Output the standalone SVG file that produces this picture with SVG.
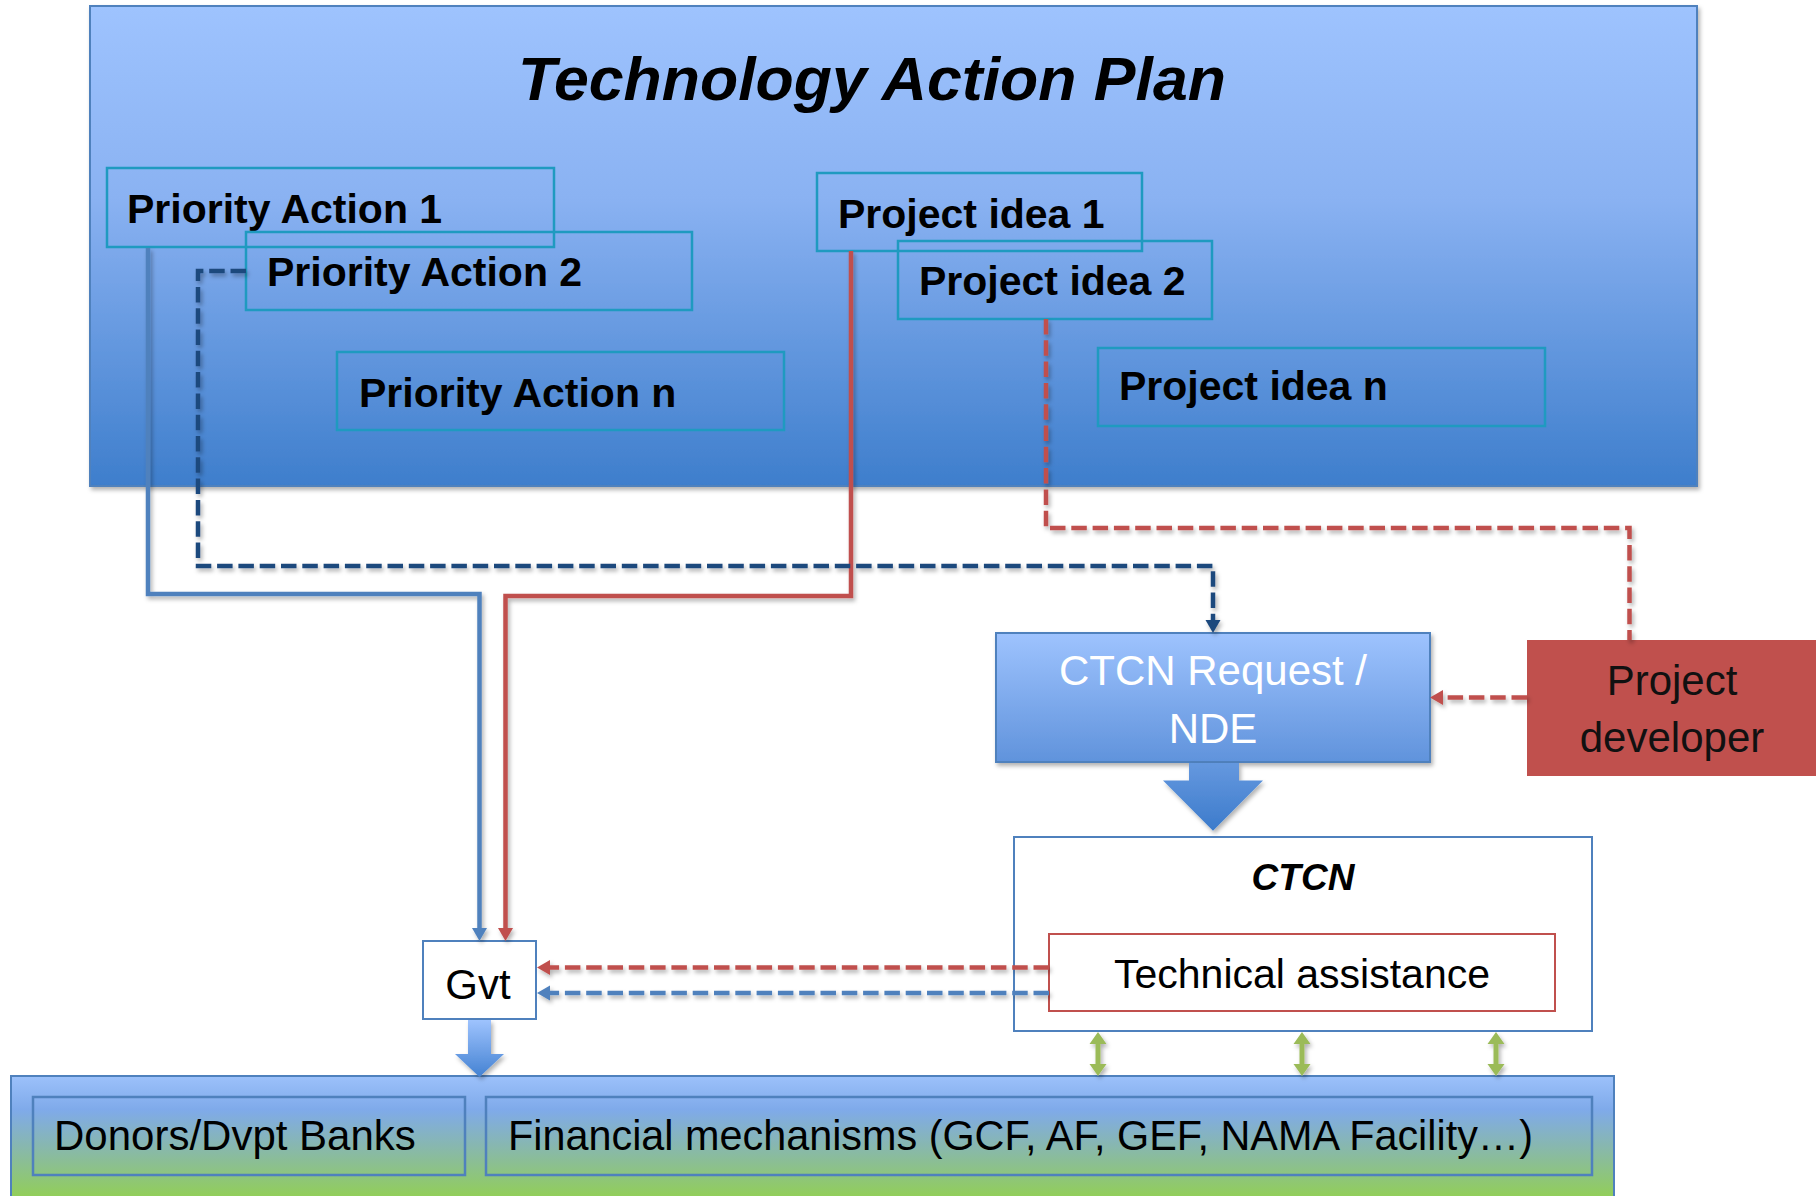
<svg xmlns="http://www.w3.org/2000/svg" width="1816" height="1196" viewBox="0 0 1816 1196">
<style>
text{font-family:"Liberation Sans",Arial,sans-serif;fill:#000}
.pa{font-size:41px;font-weight:bold}
.tbox{fill:none;stroke:#1F9AC0;stroke-width:2.5}
.reg{font-size:42px}
.sol{fill:none;stroke-width:4.5;stroke-linejoin:miter}
.dash{fill:none;stroke-width:4.5;stroke-dasharray:15.5 5.8}
</style>
<defs>
<linearGradient id="gMain" x1="0" y1="0" x2="0" y2="1">
<stop offset="0" stop-color="#9EC3FE"/>
<stop offset="0.4" stop-color="#8AB2F2"/>
<stop offset="1" stop-color="#3E7ECC"/>
</linearGradient>
<linearGradient id="gReq" x1="0" y1="0" x2="0" y2="1">
<stop offset="0" stop-color="#9EC3FE"/>
<stop offset="1" stop-color="#6093DC"/>
</linearGradient>
<linearGradient id="gBlk" x1="0" y1="0" x2="0" y2="1">
<stop offset="0" stop-color="#6598DF"/>
<stop offset="1" stop-color="#3C7BCB"/>
</linearGradient>
<linearGradient id="gBlk2" x1="0" y1="0" x2="0" y2="1">
<stop offset="0" stop-color="#9EC3FE"/>
<stop offset="1" stop-color="#4482D2"/>
</linearGradient>
<linearGradient id="gBan" x1="0" y1="1076" x2="0" y2="1196" gradientUnits="userSpaceOnUse">
<stop offset="0" stop-color="#9CC1FB"/>
<stop offset="0.28" stop-color="#7FAAEA"/>
<stop offset="0.6" stop-color="#88B8AC"/>
<stop offset="1" stop-color="#92CE5A"/>
</linearGradient>
<filter id="sh" x="-5%" y="-5%" width="110%" height="115%">
<feDropShadow dx="2" dy="3" stdDeviation="2" flood-color="#000" flood-opacity="0.3"/>
</filter>
<marker id="aRed" markerUnits="userSpaceOnUse" markerWidth="14" markerHeight="16" refX="3" refY="7.5" orient="auto">
<path d="M0,0 L13,7.5 L0,15 z" fill="#C0504D"/>
</marker>
<marker id="aBlue" markerUnits="userSpaceOnUse" markerWidth="14" markerHeight="16" refX="3" refY="7.5" orient="auto">
<path d="M0,0 L13,7.5 L0,15 z" fill="#4F81BD"/>
</marker>
<marker id="aDark" markerUnits="userSpaceOnUse" markerWidth="14" markerHeight="16" refX="3" refY="7.5" orient="auto">
<path d="M0,0 L13,7.5 L0,15 z" fill="#1F497D"/>
</marker>
</defs>

<g id="tap">
<rect x="90" y="6" width="1607" height="480" fill="url(#gMain)" stroke="#4F81BD" stroke-width="2" filter="url(#sh)"/>
<text x="872" y="100" text-anchor="middle" font-size="62" font-weight="bold" font-style="italic" textLength="708" lengthAdjust="spacingAndGlyphs">Technology Action Plan</text>
</g>

<g id="bottom-banner">
<rect x="11" y="1076" width="1603" height="130" fill="url(#gBan)" stroke="#4F81BD" stroke-width="2"/>
</g>

<g id="pa1"><rect class="tbox" x="107" y="168" width="447" height="79"/><text class="pa" x="127" y="223">Priority Action 1</text></g>
<g id="pa2"><rect class="tbox" x="246" y="232" width="446" height="78"/><text class="pa" x="267" y="286">Priority Action 2</text></g>
<g id="pan"><rect class="tbox" x="337" y="352" width="447" height="78"/><text class="pa" x="359" y="407">Priority Action n</text></g>
<g id="pi1"><rect class="tbox" x="817" y="173" width="325" height="78"/><text class="pa" x="838" y="228">Project idea 1</text></g>
<g id="pi2"><rect class="tbox" x="898" y="241" width="314" height="78"/><text class="pa" x="919" y="295">Project idea 2</text></g>
<g id="pin"><rect class="tbox" x="1098" y="348" width="447" height="78"/><text class="pa" x="1119" y="400">Project idea n</text></g>

<g id="ctcn-request">
<rect x="996" y="633" width="434" height="129" fill="url(#gReq)" stroke="#4F81BD" stroke-width="2" filter="url(#sh)"/>
<text class="reg" x="1213" y="685" text-anchor="middle" font-size="41" style="fill:#fff">CTCN Request /</text>
<text class="reg" x="1213" y="743" text-anchor="middle" font-size="41" style="fill:#fff">NDE</text>
</g>

<g id="project-developer">
<rect x="1527" y="640" width="300" height="136" fill="#C0504D"/>
<text class="reg" x="1672" y="695" text-anchor="middle" style="fill:#111">Project</text>
<text class="reg" x="1672" y="752" text-anchor="middle" style="fill:#111">developer</text>
</g>

<g id="ctcn">
<rect x="1014" y="837" width="578" height="194" fill="#fff" stroke="#4F81BD" stroke-width="2"/>
<text x="1303" y="890" text-anchor="middle" font-size="37" font-weight="bold" font-style="italic">CTCN</text>
</g>

<g id="technical-assistance">
<rect x="1049" y="934" width="506" height="77" fill="#fff" stroke="#C0504D" stroke-width="2"/>
<text x="1302" y="988" text-anchor="middle" font-size="41">Technical assistance</text>
</g>

<g id="gvt">
<rect x="423" y="941" width="113" height="78" fill="#fff" stroke="#4F81BD" stroke-width="2"/>
<text x="478" y="999" text-anchor="middle" font-size="42">Gvt</text>
</g>

<g id="donors">
<rect x="33" y="1097" width="432" height="78" fill="none" stroke="#4F81BD" stroke-width="2.5"/>
<text x="54" y="1150" font-size="42">Donors/Dvpt Banks</text>
</g>

<g id="financial">
<rect x="486" y="1097" width="1106" height="78" fill="none" stroke="#4F81BD" stroke-width="2.5"/>
<text x="508" y="1150" font-size="42" textLength="1025" lengthAdjust="spacingAndGlyphs">Financial mechanisms (GCF, AF, GEF, NAMA Facility…)</text>
</g>

<g id="connectors" filter="url(#sh)">
<path class="sol" stroke="#4F81BD" d="M148,248 V594 H479.5 V931" marker-end="url(#aBlue)"/>
<path class="sol" stroke="#C0504D" d="M851,251 V596 H505.5 V931" marker-end="url(#aRed)"/>
<path class="dash" stroke="#1F497D" d="M246,271 H198 V566 H1213 V623" marker-end="url(#aDark)"/>
<path class="dash" stroke="#C0504D" d="M1046,319 V528 H1629.5 V640"/>
<path class="dash" stroke="#C0504D" d="M1527,697.5 H1440" marker-end="url(#aRed)"/>
<path class="dash" stroke="#C0504D" d="M1049,967.5 H547" marker-end="url(#aRed)"/>
<path class="dash" stroke="#4F81BD" d="M1049,993 H547" marker-end="url(#aBlue)"/>
<polygon fill="#9BBB59" points="1098,1032 1106.5,1044 1100.5,1044 1100.5,1064 1106.5,1064 1098,1076 1089.5,1064 1095.5,1064 1095.5,1044 1089.5,1044"/>
<polygon fill="#9BBB59" points="1302,1032 1310.5,1044 1304.5,1044 1304.5,1064 1310.5,1064 1302,1076 1293.5,1064 1299.5,1064 1299.5,1044 1293.5,1044"/>
<polygon fill="#9BBB59" points="1496,1032 1504.5,1044 1498.5,1044 1498.5,1064 1504.5,1064 1496,1076 1487.5,1064 1493.5,1064 1493.5,1044 1487.5,1044"/>
<polygon fill="url(#gBlk)" points="1189,763 1239,763 1239,780.5 1263,780.5 1213,830.7 1163,780.5 1189,780.5"/>
<polygon fill="url(#gBlk2)" points="468,1020 491,1020 491,1054 504,1054 479.5,1077 455,1054 468,1054"/>
</g>
</svg>
